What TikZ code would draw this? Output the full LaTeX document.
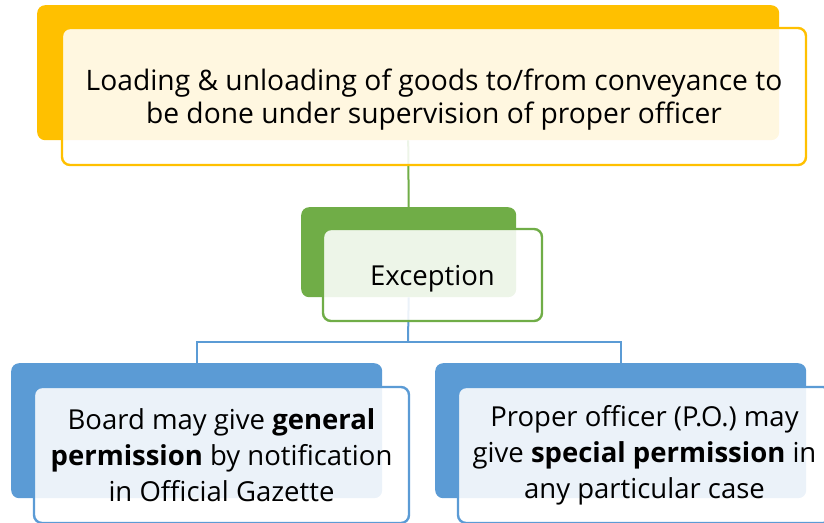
\documentclass[tikz,border=0pt]{standalone}
\usepackage{fontspec}
\setmainfont{Open Sans}
\usetikzlibrary{positioning}

\definecolor{gold}{HTML}{FFC000}
\definecolor{leaf}{HTML}{70AD47}
\definecolor{sky}{HTML}{5B9BD5}

\tikzset{
  back/.style={rectangle, rounded corners=8pt, inner sep=0pt, anchor=north west, fill=#1},
  front/.style={rectangle, rounded corners=8pt, inner sep=0pt, draw=#1, line width=2.4pt,
    fill=white, fill opacity=0.88, text opacity=1, align=center},
  link/.style={line width=2pt, draw=#1}
}

\begin{document}
\begin{tikzpicture}[x=1pt, y=-1pt, font=\fontsize{28.2}{33}\selectfont]
\useasboundingbox (0,0) rectangle (824,522);

% back boxes
\node[back=gold, minimum width=742pt, minimum height=135pt] (B1) at (37,5) {};
\node[back=leaf, minimum width=215pt, minimum height=90pt] (B2) at (301,207) {};
\node[back=sky, minimum width=371pt, minimum height=135pt] (B3) at (11,363) {};
\node[back=sky, minimum width=371pt, minimum height=135pt] (B4) at (435,363) {};

% connectors
\coordinate (J) at (408,342);
\draw[link=leaf] (B1.south) -- (B2.north);
\draw[link=sky] (B2.south) -- (J);
\draw[link=sky] (B3.north) |- (J) -| (B4.north);

% front boxes
\node[front=gold, minimum width=744pt, minimum height=137pt, text depth=0pt] (T1) at (434,96.5)
  {Loading \& unloading of goods to/from conveyance to\\be done under supervision of proper officer};
\node[front=leaf, minimum width=219pt, minimum height=92pt, text depth=0pt, font=\fontsize{27.5}{33}\selectfont] (T2) at (432.5,275) {Exception};
\node[front=sky, minimum width=375pt, minimum height=136pt, font=\fontsize{27.5}{36}\selectfont] (T3) at (221.5,455)
  {Board may give \textbf{general}\\\textbf{permission} by notification\\in Official Gazette};
\node[front=sky, minimum width=373pt, minimum height=136pt, font=\fontsize{27.5}{36}\selectfont] (T4) at (644.5,455)
  {Proper officer (P.O.) may\\give \textbf{special permission} in\\any particular case};
\end{tikzpicture}
\end{document}
